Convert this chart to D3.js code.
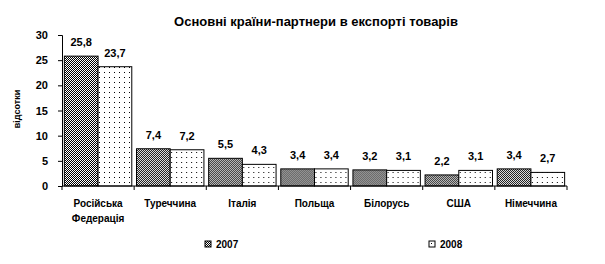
<!DOCTYPE html>
<html>
<head>
<meta charset="utf-8">
<script src="https://cdn.jsdelivr.net/npm/d3@7"></script>
<style>
  body { margin: 0; background: #fff; }
  svg text { font-family: "Liberation Sans", Arial, sans-serif; font-weight: bold; fill: #000; }
</style>
</head>
<body>
<div id="chart"></div>
<script>
const countries = [["Російська", "Федерація"], ["Туреччина"], ["Італія"], ["Польща"], ["Білорусь"], ["США"], ["Німеччина"]];
const series = ["2007", "2008"];
const values2007 = [25.8, 7.4, 5.5, 3.4, 3.2, 2.2, 3.4];
const values2008 = [23.7, 7.2, 4.3, 3.4, 3.1, 3.1, 2.7];
const yTicks = [0, 5, 10, 15, 20, 25, 30];

const width = 605, height = 264;
const margin = { top: 35, right: 38, bottom: 78, left: 62 };
const innerW = width - margin.left - margin.right;
const innerH = height - margin.top - margin.bottom;

const svg = d3.select("#chart").append("svg")
    .attr("width", width)
    .attr("height", height);

// patterns for the two series
const defs = svg.append("defs");
const dark = defs.append("pattern")
    .attr("id", "pat2007")
    .attr("patternUnits", "userSpaceOnUse")
    .attr("width", 2).attr("height", 2);
dark.append("rect").attr("width", 2).attr("height", 2).attr("fill", "#fff");
dark.append("rect").attr("x", 0).attr("y", 0).attr("width", 1).attr("height", 1).attr("fill", "#000");
dark.append("rect").attr("x", 1).attr("y", 1).attr("width", 1).attr("height", 1).attr("fill", "#000");

const dots = defs.append("pattern")
    .attr("id", "pat2008")
    .attr("patternUnits", "userSpaceOnUse")
    .attr("width", 5).attr("height", 5);
dots.append("rect").attr("width", 5).attr("height", 5).attr("fill", "#fff");
dots.append("rect").attr("x", 2).attr("y", 2).attr("width", 1).attr("height", 1).attr("fill", "#000");

const fills = { "2007": "url(#pat2007)", "2008": "url(#pat2008)" };

const g = svg.append("g").attr("transform", `translate(${margin.left},${margin.top})`);

const x0 = d3.scaleBand().domain(d3.range(countries.length)).range([0, innerW]).paddingInner(0).paddingOuter(0);
const x1 = d3.scaleBand().domain(series).range([0, x0.bandwidth()]).paddingOuter(0.07).paddingInner(0);
const y = d3.scaleLinear().domain([0, 30]).range([innerH, 0]);

// title
svg.append("text")
    .attr("x", 316).attr("y", 26)
    .attr("text-anchor", "middle")
    .style("font-size", "13px")
    .text("Основні країни-партнери в експорті товарів");

// y axis
const yAxis = g.append("g")
    .call(d3.axisLeft(y).tickValues(yTicks).tickSize(4).tickPadding(10).tickFormat(d3.format("d")));
yAxis.select(".domain").attr("stroke", "#000");
yAxis.selectAll("text").style("font-size", "11px");

g.append("text")
    .attr("transform", "rotate(-90)")
    .attr("x", -(109 - margin.top)).attr("y", -42)
    .attr("text-anchor", "middle")
    .style("font-size", "9px")
    .text("відсотки");

// bars
const groups = g.selectAll(".group")
    .data(countries.map((c, i) => ({ i, vals: [values2007[i], values2008[i]] })))
    .join("g")
    .attr("class", "group")
    .attr("transform", d => `translate(${x0(d.i)},0)`);

groups.selectAll("rect")
    .data(d => d.vals.map((v, k) => ({ key: series[k], v })))
    .join("rect")
    .attr("x", d => x1(d.key))
    .attr("y", d => y(d.v))
    .attr("width", x1.bandwidth())
    .attr("height", d => innerH - y(d.v))
    .attr("fill", d => fills[d.key])
    .attr("stroke", "#000")
    .attr("stroke-width", 1);

groups.selectAll(".val")
    .data(d => d.vals.map((v, k) => ({ key: series[k], v })))
    .join("text")
    .attr("class", "val")
    .attr("x", d => x1(d.key) + x1.bandwidth() / 2)
    .attr("y", d => y(d.v) - 10)
    .attr("text-anchor", "middle")
    .style("font-size", "11px")
    .text(d => String(d.v).replace(".", ","));

// x axis with ticks at category boundaries
const xAxis = g.append("g").attr("transform", `translate(0,${innerH})`);
xAxis.append("line")
    .attr("x1", 0).attr("x2", innerW)
    .attr("stroke", "#000");
xAxis.selectAll(".tick")
    .data(d3.range(countries.length + 1))
    .join("line")
    .attr("x1", d => d < countries.length ? x0(d) : innerW)
    .attr("x2", d => d < countries.length ? x0(d) : innerW)
    .attr("y1", 0).attr("y2", 4)
    .attr("stroke", "#000");

xAxis.selectAll(".cat")
    .data(countries)
    .join("text")
    .attr("class", "cat")
    .attr("x", (d, i) => x0(i) + x0.bandwidth() / 2)
    .attr("y", 21)
    .attr("text-anchor", "middle")
    .style("font-size", "10px")
    .selectAll("tspan")
    .data(d => d)
    .join("tspan")
    .attr("x", function () { return d3.select(this.parentNode).attr("x"); })
    .attr("dy", (d, k) => k === 0 ? 0 : 15)
    .text(d => d);

// legend
const legendPos = [205, 429];
const legend = svg.selectAll(".legend")
    .data(series)
    .join("g")
    .attr("class", "legend")
    .attr("transform", (d, i) => `translate(${legendPos[i]},241)`);
legend.append("rect")
    .attr("width", 6).attr("height", 6)
    .attr("fill", d => fills[d])
    .attr("stroke", "#000");
legend.append("text")
    .attr("x", 11).attr("y", 7)
    .style("font-size", "10px")
    .text(d => d);
</script>
</body>
</html>
